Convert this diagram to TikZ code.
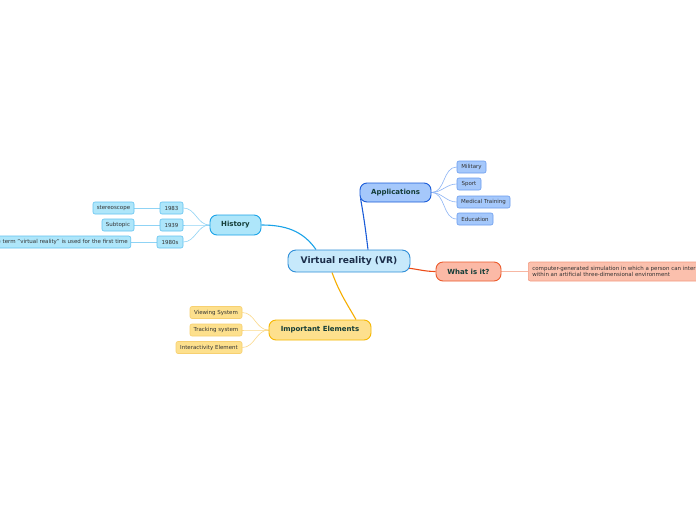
\documentclass[tikz,border=0pt]{standalone}
\usepackage{fontspec}
\setmainfont{DejaVu Sans}
\usetikzlibrary{calc,backgrounds}
\definecolor{vrfill}{HTML}{C7E9FB}\definecolor{vrdraw}{HTML}{2F8FD8}
\definecolor{hifill}{HTML}{AEE6FA}\definecolor{hidraw}{HTML}{1AA3E8}\definecolor{hisub}{HTML}{63C3F0}\definecolor{hiedge}{HTML}{8FD3F5}
\definecolor{apfill}{HTML}{A5C8FB}\definecolor{apdraw}{HTML}{1A5CD8}\definecolor{apsub}{HTML}{6B9CEE}\definecolor{apedge}{HTML}{8DB4F5}
\definecolor{wifill}{HTML}{FBB9A6}\definecolor{widraw}{HTML}{EC5A2C}\definecolor{wiedge}{HTML}{EC4A16}\definecolor{wisub}{HTML}{F39A80}\definecolor{wisubedge}{HTML}{F7B7A3}\definecolor{wisubfill}{HTML}{FBC0AD}
\definecolor{imfill}{HTML}{FDE08D}\definecolor{imdraw}{HTML}{F6B700}\definecolor{imedge}{HTML}{F6AE00}\definecolor{imsub}{HTML}{F7D070}\definecolor{imsubedge}{HTML}{FBD98A}
\definecolor{maintext}{HTML}{1C2E4A}\definecolor{toptext}{HTML}{143D38}\definecolor{subtext}{HTML}{333333}
\tikzset{
  central/.style={draw=vrdraw,fill=vrfill,line width=0.9pt,rounded corners=8pt,inner sep=0pt,minimum width=122pt,minimum height=22pt,text=maintext,font=\fontsize{9.1}{10}\selectfont\bfseries},
  topic/.style={line width=0.9pt,rounded corners=7pt,inner sep=0pt,minimum height=19pt,text=toptext,font=\fontsize{7}{8}\selectfont\bfseries},
  sub/.style={line width=0.6pt,rounded corners=2pt,inner sep=0pt,minimum height=12pt,text=subtext,font=\fontsize{5.5}{6.4}\selectfont},
  mainedge/.style={line width=1.1pt},
  subedge/.style={line width=0.6pt},
}
\begin{document}
\begin{tikzpicture}[x=1pt,y=-1pt]
\useasboundingbox (0,0) rectangle (696,520);
% central
\node[central] (vr) at (349,261) {Virtual reality (VR)};
% topics
\node[topic,draw=apdraw,fill=apfill,minimum width=71pt] (app) at (395.5,192.5) {Applications};
\node[topic,draw=hidraw,fill=hifill,minimum width=51pt,minimum height=20pt] (hist) at (235.5,225) {History};
\node[topic,draw=widraw,fill=wifill,minimum width=65pt] (what) at (468.5,271.5) {What is it?};
\node[topic,draw=imdraw,fill=imfill,minimum width=102pt,minimum height=20pt] (imp) at (320,330) {Important Elements};
% application subs
\node[sub,draw=apsub,fill=apfill,minimum width=29pt] (mil) at (471.5,167) {Military};
\node[sub,draw=apsub,fill=apfill,minimum width=24pt] (spo) at (469,184) {Sport};
\node[sub,draw=apsub,fill=apfill,minimum width=53pt] (med) at (483.5,202) {Medical Training};
\node[sub,draw=apsub,fill=apfill,minimum width=36pt] (edu) at (475,219) {Education};
% history subs
\node[sub,draw=hisub,fill=hifill,minimum width=23pt] (y83) at (171.5,208) {1983};
\node[sub,draw=hisub,fill=hifill,minimum width=23pt] (y39) at (171.5,225) {1939};
\node[sub,draw=hisub,fill=hifill,minimum width=26pt] (y80) at (170,242) {1980s};
\node[sub,draw=hisub,fill=hifill,minimum width=41pt] (ste) at (113.5,208) {stereoscope};
\node[sub,draw=hisub,fill=hifill,minimum width=32pt] (stp) at (118,225) {Subtopic};
\node[sub,draw=hisub,fill=hifill,inner xsep=3pt,anchor=east] (term) at (131,242) {The term "virtual reality" is used for the first time};
% definition
\node[sub,draw=wisub,fill=wisubfill,minimum height=19pt,anchor=west,align=left,inner xsep=4pt] (def) at (528,271.5) {computer-generated simulation in which a person can interact\\within an artificial three-dimensional environment};
% important subs
\node[sub,draw=imsub,fill=imfill,minimum width=52pt] (view) at (216,312.5) {Viewing System};
\node[sub,draw=imsub,fill=imfill,minimum width=52pt] (track) at (216,330) {Tracking system};
\node[sub,draw=imsub,fill=imfill,minimum width=66pt] (inter) at (209,347.5) {Interactivity Element};
% connectors
\begin{scope}[on background layer]
\fill[white] (0,0) rectangle (696,520);
\draw[mainedge,hidraw] ($(vr.north)+(-33,0)$) to[out=125,in=0] (hist.east);
\draw[mainedge,apdraw] ($(vr.north)+(19,0)$) to[out=97,in=-80] ($(app.south west)+(1,-4)$);
\draw[mainedge,wiedge] ($(vr.east)+(-4,7)$) to[out=-5,in=180] (what.west);
\draw[mainedge,imedge] ($(vr.south)+(-17,0)$) to[out=-70,in=120] ($(imp.north)+(36,0)$);
\foreach \c in {mil,spo,med,edu}{\draw[subedge,apedge] (app.east) to[out=0,in=180] (\c.west);}
\foreach \c in {y83,y39,y80}{\draw[subedge,hiedge] (hist.west) to[out=180,in=0] (\c.east);}
\draw[subedge,hiedge] (y83.west) -- (ste.east);
\draw[subedge,hiedge] (y39.west) -- (stp.east);
\draw[subedge,hiedge] (y80.west) -- (term.east);
\draw[subedge,wisubedge] (what.east) -- (def.west);
\foreach \c in {view,track,inter}{\draw[subedge,imsubedge] (imp.west) to[out=180,in=0] (\c.east);}
\end{scope}
\end{tikzpicture}
\end{document}
